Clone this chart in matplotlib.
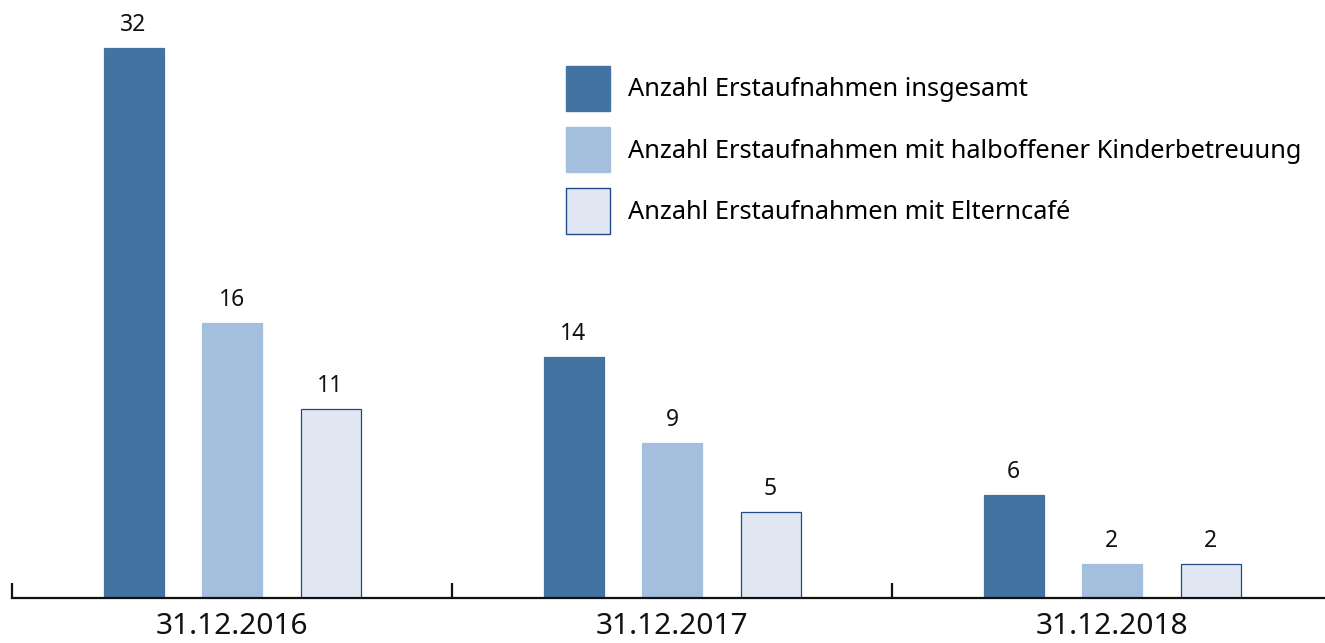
import matplotlib
matplotlib.use("Agg")
import matplotlib.pyplot as plt
import numpy as np
from matplotlib.patches import Patch

plt.rcParams['font.family'] = ['Noto Sans', 'DejaVu Sans']

categories = ["31.12.2016", "31.12.2017", "31.12.2018"]
series_names = ["Anzahl Erstaufnahmen insgesamt",
                "Anzahl Erstaufnahmen mit halboffener Kinderbetreuung",
                "Anzahl Erstaufnahmen mit Elterncafé"]
insgesamt = [32, 14, 6]
kinderbetreuung = [16, 9, 2]
elterncafe = [11, 5, 2]

colors = ["#4273A1", "#A3BFDD", "#E1E8F4"]
edges = ["#4273A1", "#A3BFDD", "#1F4A85"]

W, H = 1325, 643
fig = plt.figure(figsize=(W / 100, H / 100), dpi=100)
px_per_unit = 550 / 32
ymax = 35
ax_h = ymax * px_per_unit
ax = fig.add_axes([12 / W, (H - 598) / H, 1320 / W, ax_h / H])

x = np.arange(len(categories))
bw = 60 / 440
off = 98.5 / 440
for i, (vals, c, e) in enumerate(zip([insgesamt, kinderbetreuung, elterncafe], colors, edges)):
    bars = ax.bar(x + (i - 1) * off, vals, width=bw, color=c, edgecolor=e,
                  linewidth=0.9, label=series_names[i], zorder=2)
    for b, v in zip(bars, vals):
        ax.annotate(str(v), (b.get_x() + b.get_width() / 2, v), xytext=(0, 8),
                    textcoords="offset points", ha="center", va="bottom",
                    fontsize=16.5, color="#111111")

ax.set_xlim(-0.5, 2.5)
ax.set_ylim(0, ymax)
for s in ["top", "right", "left"]:
    ax.spines[s].set_visible(False)
ax.spines["bottom"].set_linewidth(1.6)
ax.spines["bottom"].set_color("#111111")
ax.set_yticks([])
ax.set_xticks([-0.5, 0.5, 1.5])
ax.set_xticklabels([])
ax.tick_params(axis="x", which="major", direction="in", length=11, width=1.6, color="#111111")
ax.set_xticks(x, minor=True)
ax.set_xticklabels(categories, minor=True, fontsize=21.5, color="#111111")
ax.tick_params(axis="x", which="minor", length=0, pad=10)

handles = [Patch(facecolor=c, edgecolor=e, linewidth=1.0) for c, e in zip(colors, edges)]
leg = ax.legend(handles, series_names, loc="upper left",
                bbox_to_anchor=(566 / W, 1 - 66 / H), bbox_transform=fig.transFigure,
                frameon=False, fontsize=18.3, handlelength=1.72, handleheight=2.36,
                labelspacing=0.63, handletextpad=0.7, borderpad=0, borderaxespad=0)

fig.savefig("out.png", dpi=100)
